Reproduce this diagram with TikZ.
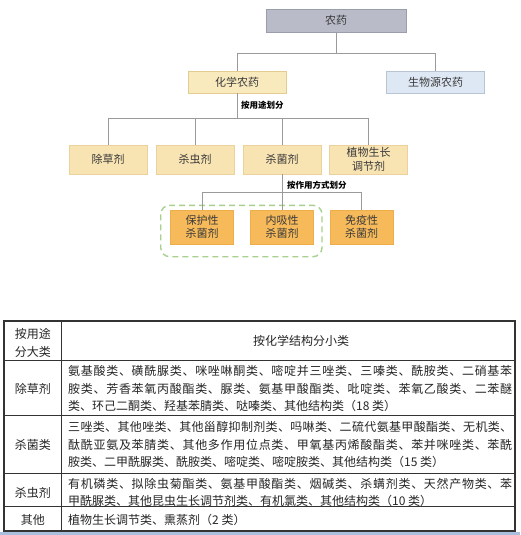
\documentclass[tikz,border=0pt]{standalone}
\usepackage{fontspec}
\setmainfont{Noto Sans CJK SC}
\makeatletter
\newcommand\spreadline[2]{\hbox to #1{\@tfor\spr@c:=#2\do{\spr@c\hfil}\unskip}}
\makeatother
\definecolor{topfill}{HTML}{B9BCC8}
\definecolor{topline}{HTML}{9A9EA8}
\definecolor{chemfill}{HTML}{F9EABE}
\definecolor{chemline}{HTML}{E3CC92}
\definecolor{biofill}{HTML}{DEE8F4}
\definecolor{bioline}{HTML}{B8C4D4}
\definecolor{usefill}{HTML}{F8E3B2}
\definecolor{useline}{HTML}{EBD29C}
\definecolor{modefill}{HTML}{F7BA5B}
\definecolor{modeline}{HTML}{EEAE4C}
\definecolor{grpline}{HTML}{A9D18E}
\definecolor{connline}{HTML}{9A9A9A}
\definecolor{boxtext}{HTML}{3A3A3A}
\definecolor{tabline}{HTML}{333333}
\definecolor{strip}{HTML}{A8C0DD}
\begin{document}
\begin{tikzpicture}[x=1pt,y=-1pt,
  chartbox/.style={draw, line width=0.7pt, inner sep=0pt, align=center,
    text=boxtext, font=\fontsize{11}{13.5}\selectfont},
  conn/.style={draw=connline, line width=0.9pt},
  splitlabel/.style={anchor=west, inner sep=0pt, text=black,
    font=\fontsize{8.5}{10}\selectfont\bfseries},
  tabtext/.style={anchor=west, inner sep=0pt, text=black!85,
    font=\fontsize{12}{14}\selectfont},
  tabhead/.style={inner sep=0pt, align=center, text=black!85,
    font=\fontsize{12}{17.5}\selectfont},
  tabrule/.style={draw=tabline, line width=1pt}]
\useasboundingbox (0,0) rectangle (520,535);
\fill[white] (0,0) rectangle (520,535);

% ---------- tree ----------
\node[chartbox, fill=topfill, draw=topline, minimum width=140pt, minimum height=23pt]
  (top) at (336,20.8) {农药};
\node[chartbox, fill=chemfill, draw=chemline, minimum width=98pt, minimum height=22pt]
  (chem) at (237,82) {化学农药};
\node[chartbox, fill=biofill, draw=bioline, minimum width=98pt, minimum height=22pt]
  (bio) at (435.5,82) {生物源农药};

\node[chartbox, fill=usefill, draw=useline, minimum width=78pt, minimum height=29pt]
  (herb) at (108,159.5) {除草剂};
\node[chartbox, fill=usefill, draw=useline, minimum width=78pt, minimum height=29pt]
  (insect) at (195,159.5) {杀虫剂};
\node[chartbox, fill=usefill, draw=useline, minimum width=78pt, minimum height=29pt]
  (fung) at (282,159.5) {杀菌剂};
\node[chartbox, fill=usefill, draw=useline, minimum width=78pt, minimum height=29pt]
  (plant) at (368.5,159.5) {植物生长\\调节剂};

\node[chartbox, fill=modefill, draw=modeline, minimum width=63pt, minimum height=34pt]
  (prot) at (202,227) {保护性\\杀菌剂};
\node[chartbox, fill=modefill, draw=modeline, minimum width=63pt, minimum height=34pt]
  (sys) at (282,227) {内吸性\\杀菌剂};
\node[chartbox, fill=modefill, draw=modeline, minimum width=63pt, minimum height=34pt]
  (immune) at (361.5,227) {免疫性\\杀菌剂};

\draw[draw=grpline, line width=1.4pt, dash pattern=on 6pt off 4pt, rounded corners=9pt]
  (160.7,205.3) rectangle (322,256.7);

\coordinate (bar1) at (336,53.3);
\coordinate (bar2) at (237,118.3);
\coordinate (bar3) at (282,192.7);

\draw[conn] (top.south) -- (bar1);
\draw[conn] (chem.north) |- (bar1) -| (bio.north);
\draw[conn] (chem.south) -- (bar2);
\draw[conn] (herb.north) |- (bar2) -| (plant.north);
\draw[conn] (insect.north) -- (insect.north |- bar2);
\draw[conn] (fung.north) -- (fung.north |- bar2);
\draw[conn] (fung.south) -- (sys.north);
\draw[conn] (prot.north) |- (bar3) -| (immune.north);

\node[splitlabel] (lbluse) at (241,105.5) {按用途划分};
\node[splitlabel] (lblmode) at (287,185.7) {按作用方式划分};

% ---------- table ----------
\draw[tabrule, line width=1.3pt] (4,321) rectangle (515,531);
\draw[tabrule] (61.5,321) -- (61.5,531);
\draw[tabrule] (4,360) -- (515,360);
\draw[tabrule] (4,415) -- (515,415);
\draw[tabrule] (4,473.3) -- (515,473.3);
\draw[tabrule] (4,506.7) -- (515,506.7);

\node[tabhead] (hleft) at (32.8,343) {按用途\\分大类};
\node[tabhead] (hright) at (301,341) {按化学结构分小类};

\node[tabhead] (c1) at (32.8,388.5) {除草剂};
\node[tabhead] (c2) at (32.8,444.5) {杀菌类};
\node[tabhead] (c3) at (32.8,492.5) {杀虫剂};
\node[tabhead] (c4) at (32.8,519.5) {其他};

\node[tabtext] (r1a) at (68,371) {\spreadline{444pt}{氨基酸类、磺酰脲类、咪唑啉酮类、嘧啶并三唑类、三嗪类、酰胺类、二硝基苯}};
\node[tabtext] (r1b) at (68,388.5) {\spreadline{444pt}{胺类、芳香苯氧丙酸酯类、脲类、氨基甲酸酯类、吡啶类、苯氧乙酸类、二苯醚}};
\node[tabtext] (r1c) at (68,406) {类、环己二酮类、羟基苯腈类、哒嗪类、其他结构类（18 类）};

\node[tabtext] (r2a) at (68,427) {\spreadline{444pt}{三唑类、其他唑类、其他甾醇抑制剂类、吗啉类、二硫代氨基甲酸酯类、无机类、}};
\node[tabtext] (r2b) at (68,444.5) {\spreadline{444pt}{酞酰亚氨及苯腈类、其他多作用位点类、甲氧基丙烯酸酯类、苯并咪唑类、苯酰}};
\node[tabtext] (r2c) at (68,462) {胺类、二甲酰脲类、酰胺类、嘧啶类、嘧啶胺类、其他结构类（15 类）};

\node[tabtext] (r3a) at (68,484) {\spreadline{444pt}{有机磷类、拟除虫菊酯类、氨基甲酸酯类、烟碱类、杀螨剂类、天然产物类、苯}};
\node[tabtext] (r3b) at (68,500.5) {甲酰脲类、其他昆虫生长调节剂类、有机氯类、其他结构类（10 类）};

\node[tabtext] (r4a) at (68,519.5) {植物生长调节类、熏蒸剂（2 类）};

\fill[strip] (0,532) rectangle (520,535);
\end{tikzpicture}
\end{document}
